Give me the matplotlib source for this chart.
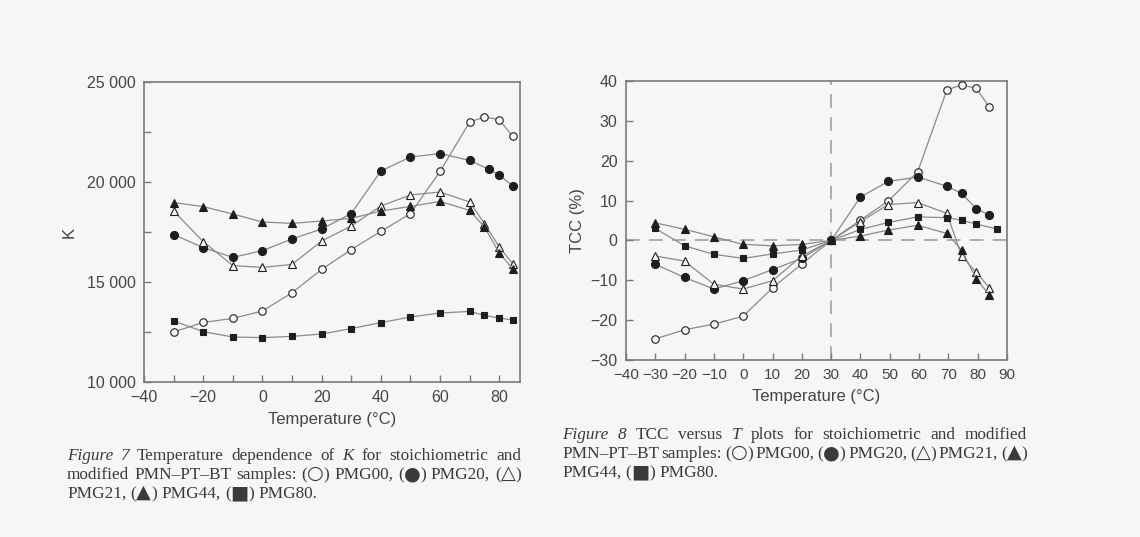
import matplotlib
matplotlib.use("Agg")
import matplotlib.pyplot as plt
from matplotlib.ticker import MultipleLocator, FuncFormatter

# ---------------- data: Figure 7 (K vs T) ----------------
T7 = [-30, -20, -10, 0, 10, 20, 30, 40, 50, 60, 70, 75, 80, 84.5]
T7_pmg20 = [-30, -20, -10, 0, 10, 20, 30, 40, 50, 60, 70, 76.5, 80, 84.5]
K_pmg00 = [12500, 12980, 13180, 13550, 14460, 15630, 16620, 17530, 18420, 20530, 23000, 23250, 23120, 22280]
K_pmg20 = [17370, 16720, 16230, 16570, 17150, 17650, 18420, 20550, 21250, 21420, 21080, 20630, 20330, 19820]
K_pmg21 = [18550, 17020, 15820, 15730, 15880, 17050, 17800, 18800, 19350, 19500, 19000, 17920, 16750, 15920]
K_pmg44 = [18970, 18770, 18400, 18000, 17930, 18050, 18180, 18550, 18780, 19030, 18580, 17750, 16450, 15670]
K_pmg80 = [13050, 12520, 12250, 12220, 12280, 12400, 12670, 12970, 13250, 13450, 13530, 13330, 13200, 13100]

# ---------------- data: Figure 8 (TCC vs T) ----------------
T8 = [-30, -20, -10, 0, 10, 20, 30, 40, 49.5, 59.5, 69.5, 74.5, 79.5, 84]
T8_pmg80 = [-30, -20, -10, 0, 10, 20, 30, 40, 49.5, 59.5, 69.5, 74.5, 79.5, 86.5]
C_pmg00 = [-24.7, -22.4, -21.0, -19.0, -11.9, -5.9, 0, 5.1, 9.9, 17.2, 37.8, 39.0, 38.2, 33.4]
C_pmg20 = [-6.0, -9.3, -12.2, -10.1, -7.3, -4.5, 0, 10.9, 14.8, 15.9, 13.6, 11.8, 8.0, 6.3]
C_pmg21 = [-3.9, -5.2, -11.0, -12.2, -10.1, -3.9, 0, 4.7, 9.0, 9.5, 6.8, -3.9, -8.0, -11.9]
C_pmg44 = [4.4, 2.8, 0.9, -1.0, -1.35, -1.0, 0, 1.1, 2.6, 3.8, 1.75, -2.4, -9.6, -13.7]
C_pmg80 = [3.0, -1.35, -3.5, -4.5, -3.4, -2.4, 0, 2.75, 4.5, 5.9, 5.7, 5.1, 4.1, 2.9]

BG = "#f4f7f6"
LINE = "#8a8a8a"
MK = "#1e1e1e"
AX = "#7a7a7a"
TXT = "#454545"
SANS = ["Liberation Sans", "DejaVu Sans"]
SERIF = ["Liberation Serif", "DejaVu Sans"]

plt.rcParams["font.family"] = SANS

fig = plt.figure(figsize=(11.4, 5.37), dpi=100, facecolor=BG)
W, H = 1140.0, 537.0

def ax_at(x0, y0, x1, y1):
    return fig.add_axes([x0 / W, 1 - y1 / H, (x1 - x0) / W, (y1 - y0) / H])

def style_axes(ax):
    ax.set_facecolor(BG)
    for sp in ("left", "bottom", "right", "top"):
        ax.spines[sp].set_color(AX)
        ax.spines[sp].set_linewidth(1.2)
    ax.tick_params(which="both", direction="in", color=AX, width=1.0,
                   labelsize=11.5, labelcolor=TXT, top=False, right=False)
    ax.tick_params(which="major", length=5, pad=6)
    ax.tick_params(which="minor", length=5)

series_styles = [
    dict(marker="o", mfc=BG, mec=MK, ms=5.4, mew=0.8),   # PMG00
    dict(marker="o", mfc=MK, mec=MK, ms=5.8, mew=0.8),   # PMG20
    dict(marker="^", mfc=BG, mec=MK, ms=5.4, mew=0.8),   # PMG21
    dict(marker="^", mfc=MK, mec=MK, ms=5.4, mew=0.8),   # PMG44
    dict(marker="s", mfc=MK, mec=MK, ms=4.8, mew=0.8),   # PMG80
]

# ---------------- Figure 7 ----------------
ax1 = ax_at(144, 82, 520, 382)
style_axes(ax1)
xs7 = [T7, T7_pmg20, T7, T7, T7]
ys7 = [K_pmg00, K_pmg20, K_pmg21, K_pmg44, K_pmg80]
for x, y, st in zip(xs7, ys7, series_styles):
    ax1.plot(x, y, color=LINE, lw=0.9, zorder=3, **st)
ax1.set_xlim(-40, 87)
ax1.set_ylim(10000, 25000)
ax1.xaxis.set_major_locator(MultipleLocator(20))
ax1.xaxis.set_minor_locator(MultipleLocator(10))
ax1.yaxis.set_major_locator(MultipleLocator(5000))
ax1.yaxis.set_minor_locator(MultipleLocator(2500))
ax1.yaxis.set_major_formatter(FuncFormatter(lambda v, p: f"{int(v):,}".replace(",", " ")))
ax1.xaxis.set_major_formatter(FuncFormatter(lambda v, p: f"{int(v)}".replace("-", "\u2212")))
ax1.set_xlabel("Temperature (\u00b0C)", fontsize=12, color=TXT, labelpad=5)
ax1.set_ylabel("K", fontsize=12, color=TXT, labelpad=7)

# ---------------- Figure 8 ----------------
ax2 = ax_at(626, 81, 1007, 360)
style_axes(ax2)
xs8 = [T8, T8, T8, T8, T8_pmg80]
ys8 = [C_pmg00, C_pmg20, C_pmg21, C_pmg44, C_pmg80]
ax2.axvline(30, color="#999999", lw=1.1, dashes=(9, 6), zorder=1)
ax2.axhline(0, color="#999999", lw=1.1, dashes=(9, 6), zorder=1)
for x, y, st in zip(xs8, ys8, series_styles):
    ax2.plot(x, y, color=LINE, lw=0.9, zorder=3, **st)
ax2.set_xlim(-40, 90)
ax2.set_ylim(-30, 40)
ax2.xaxis.set_major_locator(MultipleLocator(10))
ax2.yaxis.set_major_locator(MultipleLocator(10))
ax2.xaxis.set_major_formatter(FuncFormatter(lambda v, p: f"{int(round(v))}".replace("-", "\u2212")))
ax2.yaxis.set_major_formatter(FuncFormatter(lambda v, p: f"{int(round(v))}".replace("-", "\u2212")))
ax2.tick_params(axis="x", labelsize=11)
ax2.set_xlabel("Temperature (\u00b0C)", fontsize=12, color=TXT, labelpad=5)
ax2.set_ylabel("TCC (%)", fontsize=12, color=TXT, labelpad=4)

# ---------------- captions (justified lines) ----------------
renderer = fig.canvas.get_renderer()
CAP = "#3a3a3a"
CS = 12.4
SYMS = set("\u25cb\u25cf\u25b3\u25b2\u25a0")

def split_runs(word, style):
    # split a word into runs so that geometric symbols get a larger sans font
    runs, cur = [], ""
    for ch in word:
        if ch in SYMS:
            if cur:
                runs.append((cur, style, SERIF, CS))
                cur = ""
            runs.append((ch, "normal", ["DejaVu Sans"], CS * 1.12))
        else:
            cur += ch
    if cur:
        runs.append((cur, style, SERIF, CS))
    return runs

def draw_line(tokens, x0, x1, y, justify=True):
    words_runs = []
    for w, st in tokens:
        objs = []
        for txt, s, fam, sz in split_runs(w, st):
            t = fig.text(0, 1 - y / H, txt, fontsize=sz, family=fam, style=s,
                         color=CAP, va="baseline", ha="left")
            objs.append((t, t.get_window_extent(renderer).width))
        words_runs.append(objs)
    widths = [sum(wd for _, wd in objs) for objs in words_runs]
    n = len(words_runs)
    if justify and n > 1:
        gap = (x1 - x0 - sum(widths)) / (n - 1)
    else:
        gap = CS * 100 / 72 * 0.25
    x = x0
    for objs, wsum in zip(words_runs, widths):
        xx = x
        for t, wd in objs:
            t.set_x(xx / W)
            xx += wd
        x += wsum + gap

def words(s):
    return [(w, "normal") for w in s.split(" ")]

draw_line([("Figure", "italic"), ("7", "italic")] + words("Temperature dependence of") +
          [("K", "italic")] + words("for stoichiometric and"), 67, 521, 460)
draw_line(words("modified PMN\u2013PT\u2013BT samples: (\u25cb) PMG00, (\u25cf) PMG20, (\u25b3)"),
          67, 521, 479)
draw_line(words("PMG21, (\u25b2) PMG44, (\u25a0) PMG80."), 67, 521, 498, justify=False)

draw_line([("Figure", "italic"), ("8", "italic")] + words("TCC versus") +
          [("T", "italic")] + words("plots for stoichiometric and modified"), 562, 1027, 439)
draw_line(words("PMN\u2013PT\u2013BT samples: (\u25cb) PMG00, (\u25cf) PMG20, (\u25b3) PMG21, (\u25b2)"),
          562, 1027, 458)
draw_line(words("PMG44, (\u25a0) PMG80."), 562, 1027, 477, justify=False)

fig.savefig("out.png", dpi=100, facecolor=BG)
